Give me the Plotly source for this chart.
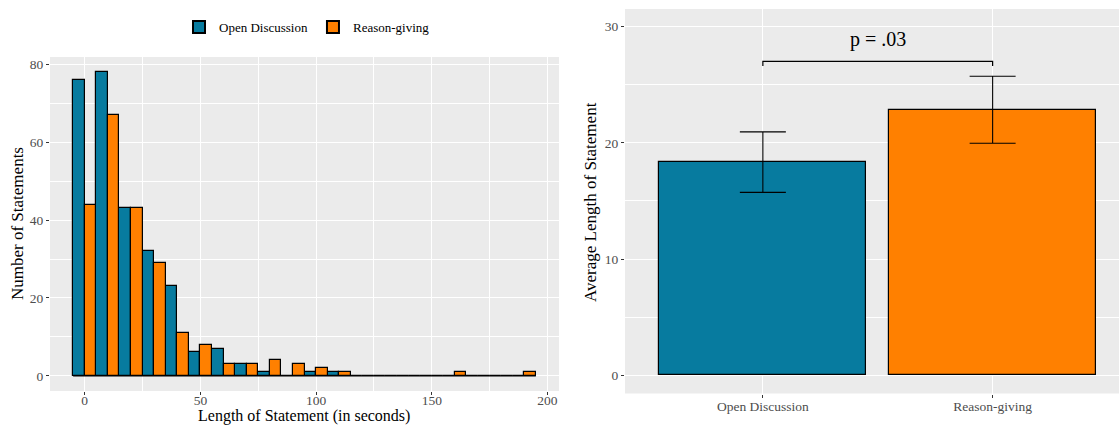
import plotly.graph_objects as go

# ---- data ----
bin_centers = [0, 10, 20, 30, 40, 50, 60, 70, 80, 90, 100, 110, 120, 130, 140, 150, 160, 170, 180, 190]
open_counts = [76, 78, 43, 32, 23, 6, 7, 3, 1, 0, 1, 1, 0, 0, 0, 0, 0, 0, 0, 0]
reason_counts = [44, 67, 43, 29, 11, 8, 3, 3, 4, 3, 2, 1, 0, 0, 0, 0, 1, 0, 0, 1]
bin_width = 10

groups = ["Open Discussion", "Reason-giving"]
means = [18.33, 22.86]
err_lo = [2.59, 2.90]
err_hi = [2.61, 2.86]
bracket_y = 27.0
bracket_drop = 0.4
p_label = "p = .03"

BLUE = "#077B9F"
ORANGE = "#FF8000"
FONT = "Liberation Serif"
W, H = 1119, 425

fig = go.Figure()

# histogram (dodged)
fig.add_trace(go.Bar(
    x=bin_centers, y=open_counts, name=groups[0], width=bin_width / 2, offset=-bin_width / 2,
    marker=dict(color=BLUE, line=dict(color="black", width=1.2)),
    xaxis="x", yaxis="y", showlegend=True))
fig.add_trace(go.Bar(
    x=bin_centers, y=reason_counts, name=groups[1], width=bin_width / 2, offset=0,
    marker=dict(color=ORANGE, line=dict(color="black", width=1.2)),
    xaxis="x", yaxis="y", showlegend=True))

# baseline line of zero-height bins
x_lo = bin_centers[0] - bin_width / 2
x_hi = bin_centers[-1] + bin_width / 2
fig.add_shape(type="line", x0=x_lo, x1=x_hi, y0=0, y1=0, xref="x", yref="y",
              line=dict(color="black", width=1.2), layer="above")

# right: mean bars
positions = [i + 1 for i in range(len(groups))]
fig.add_trace(go.Bar(
    x=positions, y=means, width=0.9,
    marker=dict(color=[BLUE, ORANGE], line=dict(color="black", width=1.2)),
    error_y=dict(type="data", symmetric=False, array=err_hi, arrayminus=err_lo,
                 color="black", thickness=1.1, width=23),
    xaxis="x2", yaxis="y2", showlegend=False))

# significance bracket
fig.add_shape(type="path",
              path=f"M {positions[0]},{bracket_y - bracket_drop} L {positions[0]},{bracket_y} "
                   f"L {positions[1]},{bracket_y} L {positions[1]},{bracket_y - bracket_drop}",
              xref="x2", yref="y2", line=dict(color="black", width=1.2))
fig.add_annotation(x=(positions[0] + positions[1]) / 2, y=bracket_y, xref="x2", yref="y2",
                   text=p_label, showarrow=False, yanchor="bottom", yshift=8,
                   font=dict(family=FONT, size=20, color="black"))

grid = dict(showgrid=True, gridcolor="white", gridwidth=1.1, zeroline=False, automargin=False,
            ticks="outside", ticklen=3, tickcolor="#333333", tickwidth=1,
            tickfont=dict(family=FONT, size=13.5, color="#4D4D4D"), showline=False)

# axis titles (placed as paper annotations)
fig.add_annotation(x=304 / W, y=1 - 416 / H, xref="paper", yref="paper", showarrow=False,
                   text="Length of Statement (in seconds)", font=dict(family=FONT, size=16, color="black"),
                   xanchor="center", yanchor="middle")
fig.add_annotation(x=17 / W, y=1 - 224 / H, xref="paper", yref="paper", showarrow=False,
                   text="Number of Statements", font=dict(family=FONT, size=17, color="black"),
                   textangle=-90, xanchor="center", yanchor="middle")
fig.add_annotation(x=590 / W, y=1 - 202 / H, xref="paper", yref="paper", showarrow=False,
                   text="Average Length of Statement", font=dict(family=FONT, size=17, color="black"),
                   textangle=-90, xanchor="center", yanchor="middle")

fig.update_layout(
    width=W, height=H,
    margin=dict(l=0, r=0, t=0, b=0, autoexpand=False),
    paper_bgcolor="white", plot_bgcolor="#EBEBEB",
    barmode="overlay", bargap=0,
    font=dict(family=FONT),
    xaxis=dict(domain=[50 / W, 559 / W], range=[-15, 205], tickvals=[0, 50, 100, 150, 200],
               minor=dict(showgrid=True, gridcolor="white", gridwidth=0.5, dtick=25, tick0=25),
               ticklabelstandoff=-6, anchor="y", **grid),
    yaxis=dict(domain=[1 - 391 / H, 1 - 57 / H], range=[-3.9, 81.9], tickvals=[0, 20, 40, 60, 80],
               minor=dict(showgrid=True, gridcolor="white", gridwidth=0.5, dtick=10, tick0=10),
               anchor="x", **grid),
    xaxis2=dict(domain=[625 / W, 1.0], range=[0.4, 2.55], tickvals=positions, ticktext=groups,
                ticklabelstandoff=-3, anchor="y2", **grid),
    yaxis2=dict(domain=[1 - 393.5 / H, 1 - 9 / H], range=[-1.55, 31.5], tickvals=[0, 10, 20, 30],
                minor=dict(showgrid=True, gridcolor="white", gridwidth=0.5, dtick=10, tick0=5),
                anchor="x2", **grid),
    legend=dict(orientation="h", x=307 / W, xanchor="center", y=1 - 27 / H, yanchor="middle",
                font=dict(family=FONT, size=13, color="black"), bgcolor="rgba(0,0,0,0)",
                itemsizing="constant", traceorder="normal"),
)

fig.write_html("out.html")
